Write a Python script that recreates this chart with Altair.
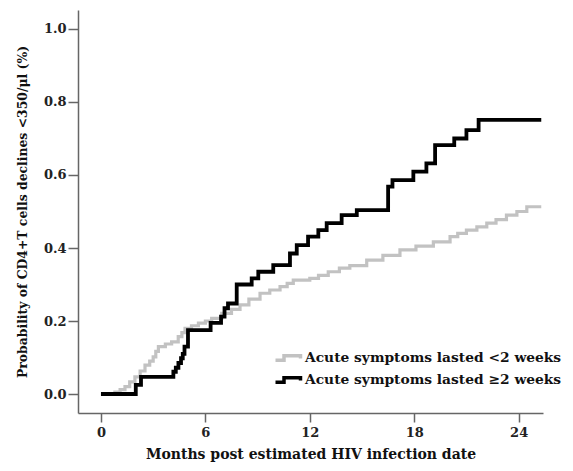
import altair as alt
import pandas as pd

# Series: "Acute symptoms lasted ≥2 weeks" (black step curve)
black_month = [0, 2.0, 2.3, 4.16, 4.3, 4.45, 4.6, 4.7, 4.8, 5.0, 6.3, 6.9, 7.1, 7.3, 7.8,
               8.66, 9.04, 9.9, 10.86, 11.25, 11.9, 12.49, 12.97, 13.83, 14.7, 16.5,
               16.75, 17.95, 18.7, 19.2, 20.3, 21.0, 21.7, 25.3]
black_prob = [0.0, 0.025, 0.047, 0.061, 0.072, 0.085, 0.098, 0.11, 0.13, 0.175, 0.195,
              0.212, 0.235, 0.248, 0.30, 0.317, 0.335, 0.353, 0.385, 0.408, 0.431, 0.449,
              0.468, 0.49, 0.504, 0.568, 0.586, 0.609, 0.632, 0.682, 0.70, 0.723, 0.751, 0.751]

# Series: "Acute symptoms lasted <2 weeks" (gray step curve)
gray_month = [0, 0.8, 1.1, 1.38, 1.65, 1.95, 2.25, 2.53, 2.8, 3.0, 3.15, 3.3, 3.7, 4.06,
              4.44, 4.65, 4.83, 5.2, 5.6, 6.0, 6.36, 6.94, 7.5, 7.99, 8.5, 9.14, 9.7,
              10.29, 10.7, 11.05, 12.0, 12.5, 13.06, 13.7, 14.3, 15.27, 16.2, 17.18,
              18.1, 19.1, 20.06, 20.5, 21.0, 21.6, 22.17, 22.7, 23.3, 23.9, 24.47, 25.3]
gray_prob = [0.0, 0.005, 0.012, 0.02, 0.033, 0.047, 0.063, 0.079, 0.09, 0.102, 0.117, 0.13,
             0.137, 0.143, 0.157, 0.168, 0.18, 0.187, 0.194, 0.2, 0.207, 0.221, 0.232,
             0.244, 0.26, 0.276, 0.285, 0.294, 0.303, 0.312, 0.317, 0.325, 0.335, 0.345,
             0.352, 0.367, 0.38, 0.395, 0.405, 0.417, 0.431, 0.44, 0.449, 0.458, 0.468,
             0.478, 0.49, 0.5, 0.513, 0.513]

series_names = ["Acute symptoms lasted <2 weeks", "Acute symptoms lasted \u22652 weeks"]
series_colors = ["#c2c2c2", "#000000"]

x_ticks = [0, 6, 12, 18, 24]
y_ticks = [0.0, 0.2, 0.4, 0.6, 0.8, 1.0]

df_gray = pd.DataFrame({"month": gray_month, "prob": gray_prob, "group": series_names[0]})
df_black = pd.DataFrame({"month": black_month, "prob": black_prob, "group": series_names[1]})

FONT = "DejaVu Serif"

x_enc = alt.X("month:Q",
              scale=alt.Scale(domain=[-1.32, 25.4], nice=False, zero=False),
              axis=alt.Axis(values=x_ticks, title="Months post estimated HIV infection date",
                            format="d", grid=False, tickSize=9, labelPadding=4,
                            titlePadding=8, titleFontSize=14))
y_enc = alt.Y("prob:Q",
              scale=alt.Scale(domain=[-0.052, 1.052], nice=False, zero=False),
              axis=alt.Axis(values=y_ticks, title="Probability of CD4+T cells declines <350/\u03bcl (%)",
                            format=".1f", grid=False, tickSize=10, labelPadding=2,
                            titlePadding=14, titleFontSize=12.4))

color_enc = alt.Color("group:N",
                      scale=alt.Scale(domain=series_names, range=series_colors),
                      legend=alt.Legend(
                          title=None, orient="none", legendX=199, legendY=336,
                          symbolType="M-1.35,0.22 L-0.5,0.22 L-0.5,-0.22 L1.15,-0.22 L1.15,0.05",
                          symbolSize=400, symbolStrokeWidth=3.5,
                          labelFont=FONT, labelFontSize=13.8, labelFontWeight="bold",
                          labelColor="#111111", labelOffset=4, rowPadding=0,
                          labelLimit=400))

gray_line = alt.Chart(df_gray).mark_line(interpolate="step-after", strokeWidth=3.2).encode(
    x=x_enc, y=y_enc, color=color_enc)
black_line = alt.Chart(df_black).mark_line(interpolate="step-after", strokeWidth=3.8).encode(
    x=x_enc, y=y_enc, color=color_enc)

chart = alt.layer(gray_line, black_line).properties(
    width=465, height=403,
    autosize=alt.AutoSizeParams(type="none"),
    padding={"left": 70, "top": 2, "right": 20, "bottom": 50},
).configure_view(stroke=None).configure_axis(
    domainColor="#666666", tickColor="#666666", domainWidth=1.5, tickWidth=1.5,
    labelFont=FONT, labelFontSize=13, labelFontWeight="bold", labelColor="#222222",
    titleFont=FONT, titleFontWeight="bold", titleColor="#111111",
)

chart.save("out.html", embed_options={"renderer": "svg", "actions": False})
